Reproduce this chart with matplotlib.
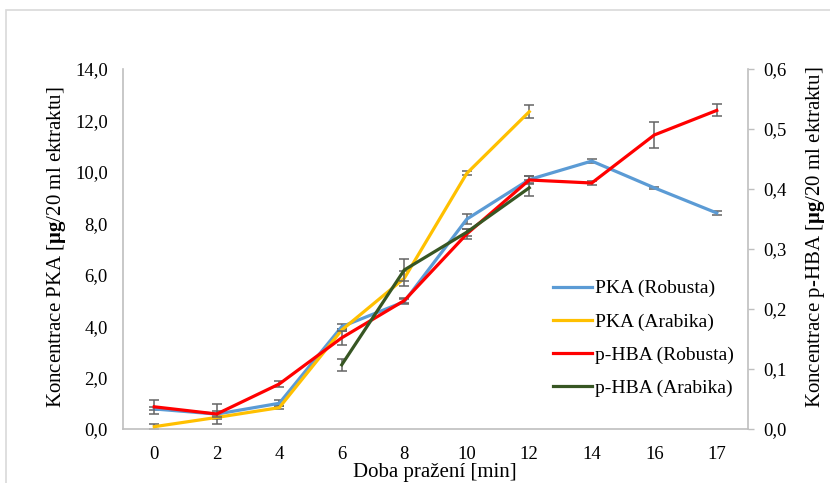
import numpy as np
import matplotlib.pyplot as plt
from matplotlib.patches import Rectangle
from matplotlib.ticker import FuncFormatter, MultipleLocator

plt.rcParams['font.family'] = ['Liberation Serif', 'DejaVu Serif']
plt.rcParams['mathtext.fontset'] = 'custom'
plt.rcParams['mathtext.rm'] = 'Liberation Serif'
plt.rcParams['mathtext.bf'] = 'Liberation Serif:bold'

# doba pražení (kategorie na ose x)
casy = ['0', '2', '4', '6', '8', '10', '12', '14', '16', '17']

# PKA [µg/20 ml] - levá osa
pka_robusta = [0.78, 0.58, 1.00, 3.98, 4.95, 8.16, 9.70, 10.42, 9.38, 8.40]
pka_robusta_err = [0.06, 0.40, 0.12, 0.10, 0.10, 0.20, 0.12, 0.07, 0.04, 0.08]
pka_arabika = [0.09, 0.45, 0.83, 3.85, 5.86, 9.94, 12.34]
pka_arabika_err = [0.10, 0.05, 0.06, 0.05, 0.30, 0.08, 0.26]

# p-HBA [µg/20 ml] - pravá osa
hba_robusta = [0.037, 0.025, 0.075, 0.152, 0.214, 0.325, 0.415, 0.410, 0.490, 0.531]
hba_robusta_err = [0.012, 0.005, 0.005, 0.012, 0.004, 0.008, 0.006, 0.004, 0.021, 0.010]
hba_arabika = [0.107, 0.265, 0.328, 0.402]
hba_arabika_err = [0.010, 0.019, 0.006, 0.013]
hba_arabika_idx = [3, 4, 5, 6]

barvy = {'pka_r': '#5B9BD5', 'pka_a': '#FFC000', 'hba_r': '#FF0000', 'hba_a': '#375623'}
err_col = '#646464'
osa_col = '#BFBFBF'

W, H = 830, 483
fig = plt.figure(figsize=(W / 100, H / 100), dpi=100)
fig.patches.append(Rectangle((6 / W, -0.1), 1.1, 1 - 10 / H + 0.1, transform=fig.transFigure,
                             fill=False, edgecolor='#D9D9D9', linewidth=1.2))

ax = fig.add_axes([123 / W, 1 - 429 / H, (748 - 123) / W, (429 - 69) / H])
ax2 = ax.twinx()

x = np.arange(len(casy))


def kresli(a, xs, ys, err, barva, popis):
    a.errorbar(xs, ys, yerr=err, fmt='none', ecolor=err_col, elinewidth=1.1,
               capsize=3.6, capthick=1.1, zorder=2)
    line, = a.plot(xs, ys, color=barva, linewidth=2.3, label=popis, zorder=3,
                   solid_joinstyle='miter')
    return line


h1 = kresli(ax, x, pka_robusta, pka_robusta_err, barvy['pka_r'], 'PKA (Robusta)')
h2 = kresli(ax, x[:len(pka_arabika)], pka_arabika, pka_arabika_err, barvy['pka_a'], 'PKA (Arabika)')
h3 = kresli(ax2, x, hba_robusta, hba_robusta_err, barvy['hba_r'], 'p-HBA (Robusta)')
h4 = kresli(ax2, x[hba_arabika_idx], hba_arabika, hba_arabika_err, barvy['hba_a'], 'p-HBA (Arabika)')

carka = FuncFormatter(lambda v, p: f'{v:.1f}'.replace('.', ','))

ax.set_xlim(-0.5, len(casy) - 0.5)
ax.set_ylim(0, 14)
ax.yaxis.set_major_locator(MultipleLocator(2))
ax.yaxis.set_major_formatter(carka)
ax.set_xticks(x)
ax.set_xticklabels(casy)
ax.tick_params(axis='x', length=0, pad=12, labelsize=13.5)
ax.tick_params(axis='y', length=0, pad=11, labelsize=13.5)

ax2.set_ylim(0, 0.6)
ax2.yaxis.set_major_locator(MultipleLocator(0.1))
ax2.yaxis.set_major_formatter(carka)
ax2.tick_params(axis='y', length=4, width=1, color=osa_col, pad=7, labelsize=13.5)

for a in (ax, ax2):
    for s in a.spines.values():
        s.set_visible(False)
ax.spines['left'].set_visible(True)
ax.spines['bottom'].set_visible(True)
ax2.spines['right'].set_visible(True)
for s in (ax.spines['left'], ax.spines['bottom'], ax2.spines['right']):
    s.set_color(osa_col)
    s.set_linewidth(1.2)

# popisky os
fig.text(57 / W, 1 - 247 / H, r'Koncentrace PKA [$\mathbf{μg}$/20 ml ektraktu]',
         rotation=90, ha='center', va='center', fontsize=15)
fig.text(815 / W, 1 - 237 / H, r'Koncentrace p-HBA [$\mathbf{μg}$/20 ml ektraktu]',
         rotation=90, ha='center', va='center', fontsize=15)
fig.text(435 / W, 1 - 472 / H, 'Doba pražení [min]', ha='center', va='center', fontsize=15)

ax2.legend(handles=[h1, h2, h3, h4], loc='upper left', bbox_to_anchor=(545 / W, 1 - 272 / H),
           bbox_transform=fig.transFigure, frameon=False, fontsize=14,
           handlelength=2.0, handletextpad=0.15, labelspacing=0.8, borderaxespad=0)

fig.savefig('out.png', dpi=100)
